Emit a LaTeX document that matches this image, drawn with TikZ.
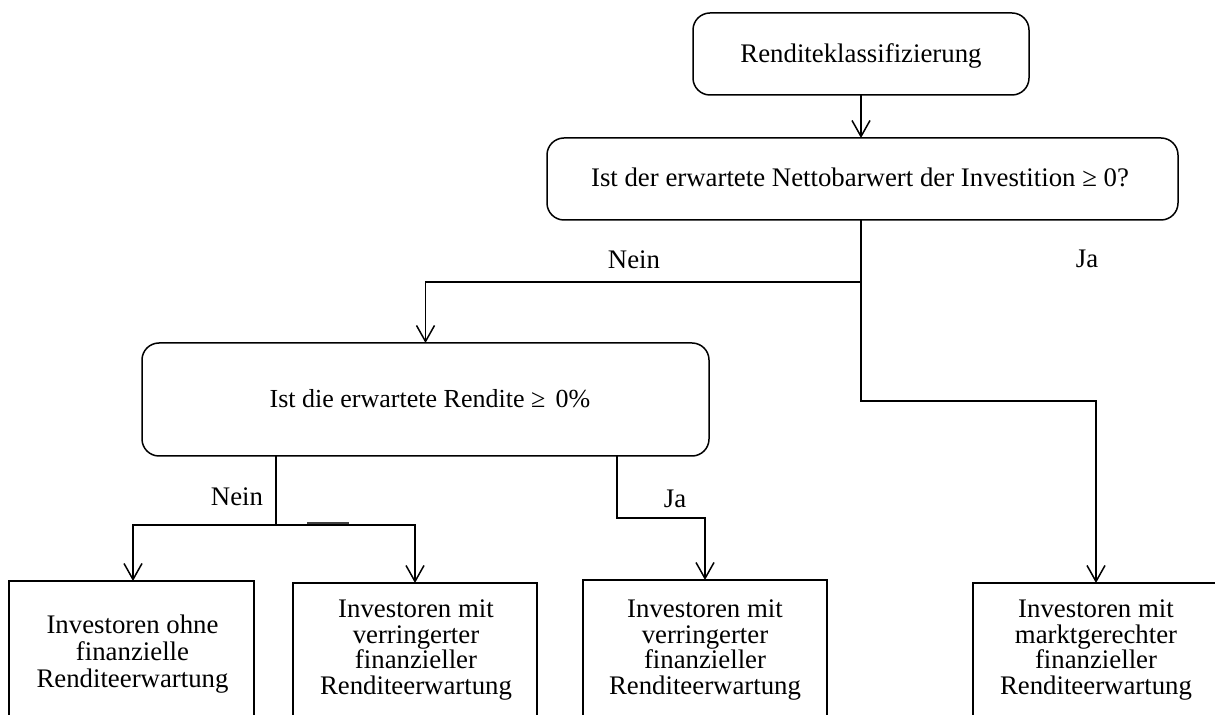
\documentclass[tikz,border=0pt]{standalone}
\usepackage{fontspec}
\setmainfont{Liberation Serif}
\usetikzlibrary{arrows.meta}

\tikzset{
  base/.style={line width=0.75pt, inner sep=0pt, outer sep=0pt},
  rbox/.style={base, draw, rounded corners=8.5pt},
  sbox/.style={base, draw, minimum height=80pt, anchor=north},
  txt/.style={inner sep=0pt, outer sep=0pt, anchor=base, align=center,
              font=\fontsize{13.4}{15}\selectfont},
  % result texts: tight leading; anchor base = last line
  restxt/.style={txt, font={\fontsize{13.4}{#1}\selectfont\lineskiplimit=-100pt}},
  restxt/.default=12.75pt,
  conn/.style={line width=0.75pt},
  arr/.style={conn, -{Straight Barb[length=8pt,width=9pt]}},
}

\begin{document}
\begin{tikzpicture}[x=0.5pt,y=-0.5pt]
  \useasboundingbox (0,0) rectangle (1215,715);
  \clip (0,0) rectangle (1215,715);

  % decision boxes
  \node[rbox, minimum width=168pt, minimum height=41pt] (t1) at (861,54) {};
  \node[txt] (t1t) at (861,63) {Renditeklassifizierung};

  \node[rbox, minimum width=315.5pt, minimum height=41pt] (q1) at (862.5,179) {};
  \node[txt] (q1t) at (860,187) {Ist der erwartete Nettobarwert der Investition ≥ 0?};

  \node[rbox, minimum width=283.5pt, minimum height=56.5pt] (q2) at (425.5,399.5) {};
  \node[txt, font=\fontsize{13}{15}\selectfont] (q2t) at (430,408)
    {Ist die erwartete Rendite ≥\hspace{0.4em}0\%};

  % result boxes (open towards the bottom edge)
  \node[sbox, minimum width=122.5pt] (bA) at (131.5,581) {};
  \node[restxt=13.5pt] (bAt) at (132.5,687) {Investoren ohne\\finanzielle\\Renditeerwartung};

  \node[sbox, minimum width=122pt] (bB) at (415,583) {};
  \node[restxt] (bBt) at (416,694)
    {Investoren mit\\verringerter\\finanzieller\\Renditeerwartung};

  \node[sbox, minimum width=122pt] (bC) at (705,580) {};
  \node[restxt] (bCt) at (705,694)
    {Investoren mit\\verringerter\\finanzieller\\Renditeerwartung};

  \node[sbox, minimum width=123pt] (bD) at (1096,583) {};
  \node[restxt] (bDt) at (1096,694)
    {Investoren mit\\marktgerechter\\finanzieller\\Renditeerwartung};

  % branch points
  \coordinate (j1) at (861,282);
  \coordinate (j2) at (861,401);
  \coordinate (k1) at (276,525);
  \coordinate (k2) at (617,518);

  % short thickened stroke on the lower "Nein" branch
  \draw[black!75, line width=1.2pt] (307,523.5) -- (349,523.5);

  % connectors
  \draw[arr] (t1.south) -- (t1.south |- q1.north);
  \draw[conn] (q1.south -| j1) -- (j1);
  \draw[arr] (j1) -| (q2.north);
  \draw[arr] (j1) -- (j2) -| (bD.north);

  \draw[conn] (q2.south -| k1) -- (k1);
  \draw[arr] (k1) -| (bA.north -| 133,0);
  \draw[arr] (k1) -| (bB.north);

  \draw[arr] (q2.south -| k2) -- (k2) -| (bC.north);

  % branch labels
  \node[txt] (n1) at (634,269) {Nein};
  \node[txt] (y1) at (1087,268) {Ja};
  \node[txt] (n2) at (237,506) {Nein};
  \node[txt] (y2) at (675,508) {Ja};
\end{tikzpicture}
\end{document}
